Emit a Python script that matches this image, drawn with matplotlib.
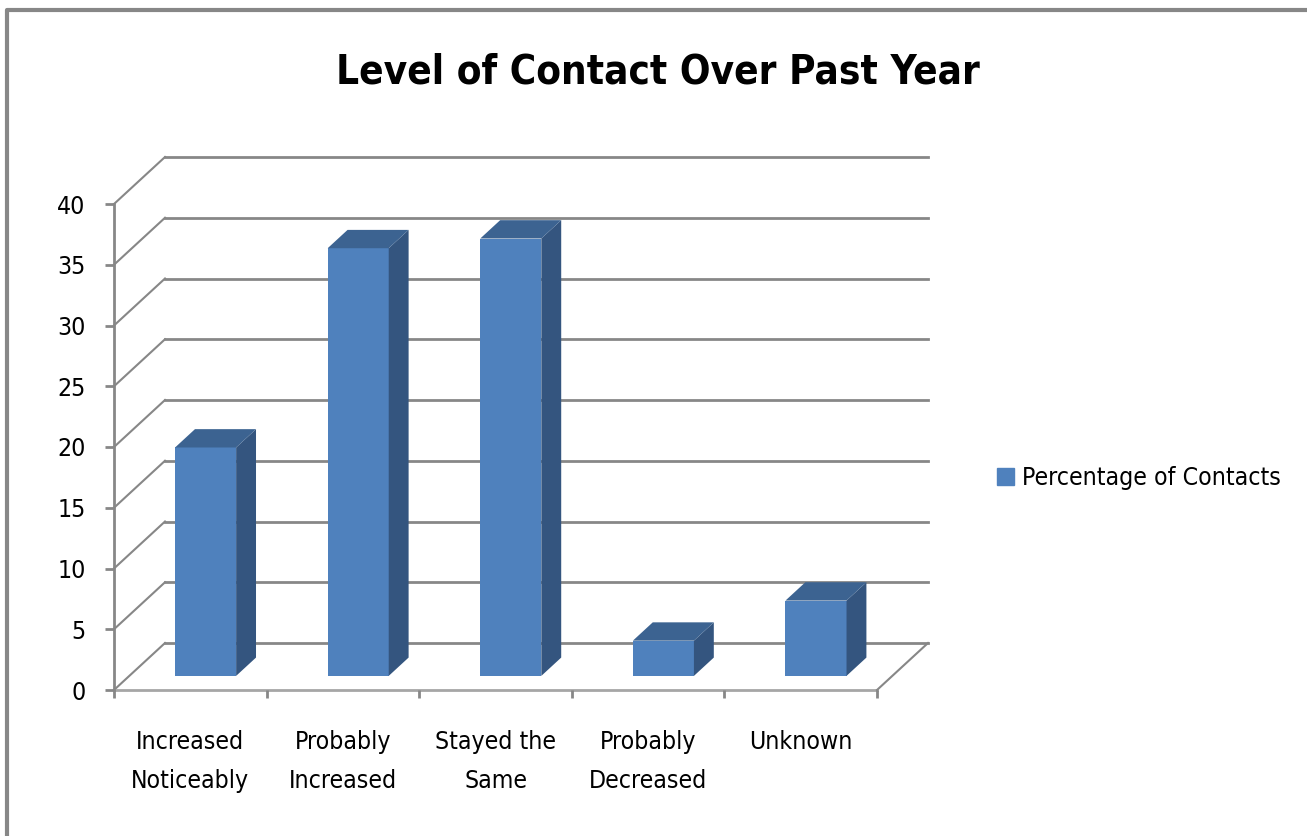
import matplotlib
matplotlib.use('Agg')
from matplotlib import pyplot as plt
from matplotlib import font_manager
from matplotlib.patches import Polygon, Patch
from matplotlib.lines import Line2D

categories = ['Increased\nNoticeably', 'Probably\nIncreased', 'Stayed the\nSame',
              'Probably\nDecreased', 'Unknown']
values = [18.8, 35.2, 36.0, 2.9, 6.2]
yticks = [0, 5, 10, 15, 20, 25, 30, 35, 40]
series_name = 'Percentage of Contacts'

# the reference uses a narrow font; take a condensed face if one is installed
family, stretch, title_size, text_size, lsp = 'Liberation Sans', 'normal', 30, 17.5, 1.75
for fam in ['Noto Sans', 'DejaVu Sans', 'Open Sans']:
    try:
        path = font_manager.findfont(font_manager.FontProperties(family=fam, stretch='condensed'),
                                     fallback_to_default=False)
    except Exception:
        continue
    if 'ondensed' in path:
        family, stretch, title_size, text_size, lsp = fam, 'condensed', 29, 17.8, 1.8
        break
plt.rcParams['font.family'] = [family, 'DejaVu Sans']
plt.rcParams['font.stretch'] = stretch

front = '#4F81BD'
side = '#34557F'
top = '#3C6391'
grid = '#878787'

W, H = 1307, 836
fig = plt.figure(figsize=(W/100, H/100), dpi=100)
# front plane of the 3d box, in pixels
x0, x1, y0, y1 = 114, 877, 690, 204
ax = fig.add_axes([x0/W, 1-y0/H, (x1-x0)/W, (y0-y1)/H])
ax.set_xlim(-0.5, 4.5)
ax.set_ylim(0, 40)

# depth vector (front -> back wall) in data units
dx = 51/((x1-x0)/5)
dy = 47/((y0-y1)/40)

# back wall gridlines and left wall diagonals
for v in yticks:
    ax.plot([-0.5+dx, 4.5+dx], [v+dy, v+dy], color=grid, lw=2, clip_on=False, zorder=1)
    ax.plot([-0.5, -0.5+dx], [v, v+dy], color=grid, lw=1.5, clip_on=False, zorder=1)
# floor
ax.plot([-0.5, 4.5], [0, 0], color='#A6A6A6', lw=2, clip_on=False, zorder=1)
ax.plot([4.5, 4.5+dx], [0, dy], color=grid, lw=1.5, clip_on=False, zorder=1)

# bars
f0, f1 = 0.30, 0.69
bw = 0.4
for i, v in enumerate(values):
    xl = i - bw/2 + f0*dx
    xr = xl + bw
    yb = f0*dy
    yt = yb + v
    ddx = (f1-f0)*dx
    ddy = (f1-f0)*dy
    ax.add_patch(Polygon([(xl, yb), (xr, yb), (xr, yt), (xl, yt)], closed=True,
                         fc=front, ec='none', clip_on=False, zorder=3))
    ax.add_patch(Polygon([(xr, yb), (xr+ddx, yb+ddy), (xr+ddx, yt+ddy), (xr, yt)], closed=True,
                         fc=side, ec='none', clip_on=False, zorder=3))
    ax.add_patch(Polygon([(xl, yt), (xr, yt), (xr+ddx, yt+ddy), (xl+ddx, yt+ddy)], closed=True,
                         fc=top, ec='none', clip_on=False, zorder=3))

for s in ['top', 'right', 'bottom']:
    ax.spines[s].set_visible(False)
ax.spines['left'].set_color(grid)
ax.spines['left'].set_linewidth(2)
ax.patch.set_alpha(0)

ax.set_yticks(yticks)
ax.tick_params(axis='y', length=6.5, width=2, color=grid, pad=14, labelsize=text_size)
ax.set_xticks([i - 0.5 for i in range(len(categories)+1)])
ax.set_xticklabels([])
ax.tick_params(axis='x', which='major', length=6, width=2, color=grid, direction='out')
ax.set_xticks(range(len(categories)), minor=True)
ax.set_xticklabels(categories, minor=True, fontsize=text_size, linespacing=lsp)
ax.tick_params(axis='x', which='minor', length=0, pad=29)

fig.text(658/W, 1-73/H, 'Level of Contact Over Past Year', ha='center', va='center',
         fontsize=title_size, fontweight='bold')

fig.legend(handles=[Patch(color=front, label=series_name)], loc='center left',
           bbox_to_anchor=(997/W, 1-478/H), frameon=False, fontsize=text_size,
           handlelength=0.7, handleheight=0.7, handletextpad=0.3, borderpad=0, borderaxespad=0)

fig.add_artist(Line2D([7/W, 7/W, 1.0], [0.0, 1-10/H, 1-10/H], transform=fig.transFigure,
                      color='#878787', lw=3))

fig.savefig('out.png', dpi=100)
